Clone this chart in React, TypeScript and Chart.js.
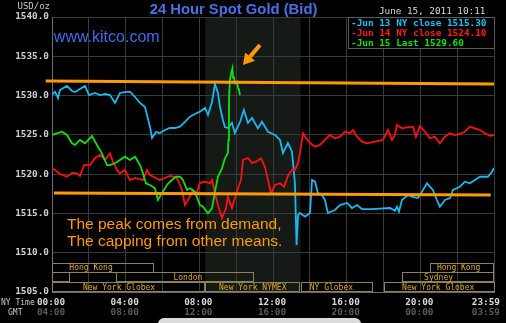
import React, { useEffect, useRef } from 'react';
import { Chart, registerables } from 'chart.js';

Chart.register(...registerables);

// ---- data (hour of NY day, price USD/oz) ----
const jun13Series: [number, number][] = [
  [0, 1530.07], [0.16, 1530.49], [0.33, 1529.69], [0.43, 1530.71], [0.81, 1531.22], [1.09, 1530.58], [1.25, 1530.45], [1.52, 1530.84], [1.79, 1531.22], [2.01, 1530.07],
  [2.33, 1530.33], [2.61, 1530.07], [2.88, 1530.2], [3.15, 1530.07], [3.42, 1529.06], [3.69, 1530.33], [3.96, 1530.45], [4.23, 1530.49], [4.51, 1529.82], [4.78, 1529.06],
  [5.05, 1528.55], [5.32, 1526.04], [5.43, 1524.6], [5.65, 1525.36], [5.86, 1525.24], [6.13, 1525.62], [6.41, 1525.87], [6.68, 1525.87], [6.95, 1526.04], [7.22, 1526.64],
  [7.49, 1527.31], [7.76, 1527.65], [8.03, 1527.95], [8.31, 1528.42], [8.47, 1527.53], [8.69, 1529.22], [8.85, 1531.47], [9.01, 1530.33], [9.12, 1528.58], [9.28, 1526.89],
  [9.39, 1526.0], [9.55, 1525.87], [9.77, 1526.51], [9.93, 1525.24], [10.21, 1526.64], [10.42, 1528.16], [10.64, 1526.51], [10.86, 1527.15], [11.18, 1525.83], [11.4, 1526.67],
  [11.73, 1525.4], [12.11, 1524.98], [12.38, 1524.35], [12.54, 1522.69], [12.81, 1523.96], [13.03, 1522.86], [13.19, 1518.87], [13.28, 1510.98], [13.36, 1514.8], [13.46, 1515.05],
  [13.74, 1514.58], [14.01, 1515.05], [14.12, 1519.25], [14.28, 1519.04], [14.44, 1517.6], [14.66, 1517.35], [14.82, 1516.71], [14.98, 1515.05], [15.36, 1515.44], [15.64, 1516.07],
  [16.02, 1516.33], [16.29, 1515.69], [16.56, 1516.07], [16.83, 1515.56], [17.37, 1515.56], [18.35, 1515.69], [18.62, 1515.35], [18.73, 1515.86], [18.84, 1515.22], [19.0, 1516.71],
  [19.33, 1517.35], [19.54, 1517.13], [19.87, 1516.96], [20.09, 1517.77], [20.36, 1518.83], [20.68, 1517.98], [20.9, 1516.71], [21.06, 1515.86], [21.34, 1516.71], [21.61, 1516.96],
  [21.77, 1517.98], [22.15, 1518.4], [22.42, 1519.04], [22.69, 1518.83], [22.96, 1519.25], [23.24, 1519.67], [23.67, 1519.67], [23.89, 1520.31], [24.0, 1520.78],
];

const jun14Series: [number, number][] = [
  [0, 1520.74], [0.16, 1520.53], [0.43, 1520.02], [0.81, 1519.67], [1.09, 1520.15], [1.36, 1520.11], [1.52, 1519.76], [1.74, 1521.16], [2.06, 1521.16], [2.33, 1522.02],
  [2.61, 1522.44], [2.88, 1521.8], [3.15, 1522.65], [3.31, 1521.58], [3.53, 1520.53], [3.69, 1520.11], [3.96, 1520.53], [4.23, 1519.25], [4.51, 1519.51], [4.94, 1519.25],
  [5.16, 1520.53], [5.32, 1519.89], [5.86, 1519.25], [6.13, 1519.51], [6.41, 1519.76], [6.68, 1519.67], [6.84, 1519.25], [7.06, 1517.98], [7.22, 1516.07], [7.49, 1517.13],
  [7.65, 1517.98], [7.82, 1517.35], [8.03, 1518.87], [8.31, 1519.04], [8.58, 1518.83], [8.69, 1519.25], [8.85, 1517.6], [9.01, 1516.07], [9.23, 1514.42], [9.45, 1515.69],
  [9.55, 1517.13], [9.77, 1515.69], [9.93, 1516.96], [10.1, 1518.24], [10.26, 1519.25], [10.37, 1521.8], [10.64, 1522.05], [10.86, 1521.42], [11.07, 1521.58], [11.35, 1522.02],
  [11.56, 1520.95], [11.73, 1519.25], [11.89, 1517.56], [12.11, 1518.62], [12.38, 1518.83], [12.6, 1518.4], [12.81, 1519.76], [13.03, 1520.53], [13.19, 1520.53], [13.36, 1521.42],
  [13.46, 1522.69], [13.63, 1525.2], [13.79, 1524.6], [14.01, 1523.96], [14.28, 1523.49], [14.55, 1523.71], [14.82, 1524.35], [15.09, 1524.98], [15.36, 1524.56], [15.64, 1524.77],
  [15.91, 1525.4], [16.18, 1525.2], [16.34, 1525.62], [16.56, 1524.77], [16.83, 1524.13], [17.1, 1523.93], [17.54, 1524.13], [17.97, 1524.35], [18.24, 1525.62], [18.46, 1524.35],
  [18.62, 1524.98], [18.73, 1526.25], [19.0, 1525.83], [19.27, 1525.96], [19.6, 1526.04], [19.76, 1524.77], [19.98, 1526.13], [20.25, 1525.4], [20.52, 1524.56], [20.79, 1524.77],
  [21.06, 1523.93], [21.34, 1524.77], [21.61, 1525.2], [21.88, 1524.98], [22.15, 1525.11], [22.42, 1525.4], [22.69, 1526.04], [22.96, 1525.83], [23.24, 1525.62], [23.51, 1525.2],
  [23.78, 1524.89], [24.0, 1524.98],
];

const jun15Series: [number, number][] = [
  [0, 1524.98], [0.27, 1525.2], [0.54, 1525.4], [0.81, 1524.98], [1.09, 1523.93], [1.25, 1523.71], [1.52, 1524.35], [1.79, 1523.93], [2.17, 1524.85], [2.44, 1523.71],
  [2.71, 1522.65], [2.99, 1521.16], [3.15, 1521.16], [3.42, 1521.38], [3.69, 1521.8], [3.96, 1522.22], [4.23, 1521.8], [4.51, 1522.22], [4.78, 1521.16], [4.94, 1520.11],
  [5.1, 1518.83], [5.32, 1518.62], [5.59, 1518.2], [5.75, 1516.71], [5.97, 1517.56], [6.24, 1518.62], [6.51, 1519.25], [6.73, 1519.67], [6.95, 1519.67], [7.11, 1519.25],
  [7.33, 1517.98], [7.49, 1518.2], [7.76, 1517.77], [8.03, 1516.07], [8.2, 1515.86], [8.47, 1515.02], [8.69, 1515.65], [8.85, 1517.77], [9.01, 1519.67], [9.23, 1520.74],
  [9.39, 1522.02], [9.55, 1522.69], [9.58, 1524.35], [9.61, 1529.44], [9.66, 1531.98], [9.72, 1532.75], [9.8, 1533.47], [9.83, 1532.24], [9.88, 1532.4], [9.93, 1531.56],
  [10.04, 1531.77], [10.1, 1530.93], [10.15, 1530.71], [10.21, 1530.07],
];

// hand-drawn "cap" lines
const capHigh: [number, number][] = [[-0.34, 1531.86], [24, 1531.47]];
const capLow: [number, number][] = [[0.11, 1517.6], [23.82, 1517.35]];

// arrow (tail -> head) in hour / price
const arrowTail: [number, number] = [11.29, 1536.44];
const arrowHead: [number, number] = [10.37, 1533.89];

const legendLines = ['-Jun 13 NY close 1515.30', '-Jun 14 NY close 1524.10', '-Jun 15 Last 1529.60'];
const legendColors = ['#19c0f5', '#ff1a1a', '#10e010'];

const labelHours = [0, 4, 8, 12, 16, 20, 24];
const nyTimeLabels = ['00:00', '04:00', '08:00', '12:00', '16:00', '20:00', '23:59'];
const gmtLabels = ['04:00', '08:00', '12:00', '16:00', '20:00', '00:00', '03:59'];

const comexOpen = 8.33;
const comexClose = 13.5;

// trading sessions: row, start hour, end hour, label, label centre hour
const sessions: [number, number, number, string, number][] = [
  [0, 0, 5.54, 'Hong Kong', 2.12],
  [0, 20.5, 24, 'Hong Kong', 22.08],
  [1, 0, 1.0, '', 0.5],
  [1, 3.5, 11.0, 'London', 7.38],
  [1, 19.0, 24, 'Sydney', 20.99],
  [2, 0, 8.33, 'New York Globex', 3.64],
  [2, 8.33, 13.5, 'New York NYMEX', 10.9],
  [2, 13.5, 17.4, 'NY Globex', 15.17],
  [2, 18.0, 24, 'New York Globex', 20.97],
];
const sessionRowTops = [1508.75, 1507.5, 1506.25];
const sessionRowHeight = 1.25;

const noteLines = ['The peak comes from demand,', 'The capping from other means.'];
const notePos: [number, number][] = [[0.81, 1513.53], [0.81, 1511.36]];
const sitePos: [number, number] = [0.1, 1537.33];

const MONO = '"DejaVu Sans Mono", "Liberation Mono", monospace';
const SANS = '"Liberation Sans", Arial, sans-serif';

const toPts = (s: [number, number][]) => s.map(([x, y]) => ({ x, y }));

const decorPlugin = {
  id: 'decor',
  beforeDraw(chart: any) {
    const { ctx, chartArea: a, scales } = chart;
    const x = scales.x;
    ctx.save();
    ctx.fillStyle = '#000';
    ctx.fillRect(0, 0, chart.width, chart.height);
    const x1 = x.getPixelForValue(comexOpen);
    const x2 = x.getPixelForValue(comexClose);
    ctx.fillStyle = '#161a16';
    ctx.fillRect(x1, a.top, x2 - x1, a.bottom - a.top);
    ctx.restore();
  },
  afterDraw(chart: any) {
    const { ctx, chartArea: a, scales } = chart;
    const x = scales.x;
    const y = scales.y;
    ctx.save();

    // title
    ctx.fillStyle = '#4a6fe6';
    ctx.font = `bold 14.8px ${SANS}`;
    ctx.textAlign = 'center';
    ctx.textBaseline = 'alphabetic';
    ctx.fillText('24 Hour Spot Gold (Bid)', 233.5, 13.5);

    // units
    ctx.fillStyle = '#c8c8c8';
    ctx.font = `9px ${MONO}`;
    ctx.textAlign = 'right';
    ctx.fillText('USD/oz', 50, 9);

    // date
    ctx.fillStyle = '#d8d8d8';
    ctx.font = `9.3px ${MONO}`;
    ctx.textAlign = 'left';
    ctx.fillText('June 15, 2011 10:11', 379, 14);

    // site
    ctx.fillStyle = '#4169e6';
    ctx.font = `16px ${SANS}`;
    ctx.textBaseline = 'middle';
    ctx.fillText('www.kitco.com', x.getPixelForValue(sitePos[0]), y.getPixelForValue(sitePos[1]));

    // legend box
    const lx = 348, ly = a.top, lw = a.right + 1 - 348, lh = 31;
    ctx.fillStyle = '#000';
    ctx.fillRect(lx, ly, lw, lh);
    ctx.strokeStyle = '#5a5a5a';
    ctx.lineWidth = 1;
    ctx.strokeRect(lx + 0.5, ly + 0.5, lw - 1, lh);
    ctx.font = `bold 9.4px ${MONO}`;
    ctx.textBaseline = 'alphabetic';
    ctx.textAlign = 'left';
    legendLines.forEach((t, i) => {
      ctx.fillStyle = legendColors[i];
      ctx.fillText(t, 351, 26 + i * 10);
    });

    // sessions
    ctx.font = `8px ${MONO}`;
    ctx.textAlign = 'center';
    ctx.textBaseline = 'middle';
    sessions.forEach(([row, s, e, label, at]) => {
      const top = y.getPixelForValue(sessionRowTops[row]);
      const bot = y.getPixelForValue(sessionRowTops[row] - sessionRowHeight);
      const xs = x.getPixelForValue(s);
      const xe = x.getPixelForValue(e);
      ctx.strokeStyle = '#8a8356';
      ctx.strokeRect(Math.round(xs) + 0.5, Math.round(top) + 0.5, Math.round(xe - xs) - 1, Math.round(bot - top) - 1);
      if (label) {
        ctx.fillStyle = '#dcaa2a';
        ctx.fillText(label, x.getPixelForValue(at), (top + bot) / 2 + 0.5);
      }
    });

    // x labels
    ctx.font = `bold 9.4px ${MONO}`;
    ctx.textBaseline = 'middle';
    ctx.textAlign = 'center';
    labelHours.forEach((h, i) => {
      let px = x.getPixelForValue(h);
      const w = ctx.measureText(nyTimeLabels[i]).width;
      px = Math.min(px - 1, chart.width - 6 - w / 2);
      ctx.fillStyle = '#d8d8d8';
      ctx.fillText(nyTimeLabels[i], px, 303);
      ctx.fillStyle = '#5a5a5a';
      ctx.fillText(gmtLabels[i], px, 313);
    });
    ctx.font = `8px ${MONO}`;
    ctx.fillStyle = '#c8c8c8';
    ctx.textAlign = 'left';
    ctx.fillText('NY Time', 1, 303);
    ctx.fillText('GMT', 8, 313);

    // notes
    ctx.fillStyle = '#ff9a00';
    ctx.font = `15.5px ${SANS}`;
    ctx.textAlign = 'left';
    ctx.textBaseline = 'middle';
    noteLines.forEach((t, i) => {
      ctx.fillText(t, x.getPixelForValue(notePos[i][0]), y.getPixelForValue(notePos[i][1]));
    });

    // arrow
    const tx = x.getPixelForValue(arrowTail[0]), ty = y.getPixelForValue(arrowTail[1]);
    const hx = x.getPixelForValue(arrowHead[0]), hy = y.getPixelForValue(arrowHead[1]);
    const ang = Math.atan2(hy - ty, hx - tx);
    const headLen = 11, headHalf = 6.5;
    const bx = hx - headLen * Math.cos(ang), by = hy - headLen * Math.sin(ang);
    ctx.strokeStyle = '#ff9a00';
    ctx.fillStyle = '#ff9a00';
    ctx.lineWidth = 4;
    ctx.beginPath();
    ctx.moveTo(tx, ty);
    ctx.lineTo(bx, by);
    ctx.stroke();
    ctx.beginPath();
    ctx.moveTo(hx, hy);
    ctx.lineTo(bx + headHalf * Math.sin(ang), by - headHalf * Math.cos(ang));
    ctx.lineTo(bx - headHalf * Math.sin(ang), by + headHalf * Math.cos(ang));
    ctx.closePath();
    ctx.fill();

    // cropped light shape at the very bottom
    ctx.fillStyle = '#dcdcdc';
    ctx.beginPath();
    (ctx as any).roundRect(158, 318, 203, 14, 6);
    ctx.fill();

    ctx.restore();
  },
};

export default function App() {
  const ref = useRef<HTMLCanvasElement>(null);
  useEffect(() => {
    document.body.style.margin = '0';
    document.body.style.background = '#000';
    const chart = new Chart(ref.current as HTMLCanvasElement, {
      type: 'line',
      data: {
        datasets: [
          { data: toPts(capHigh), borderColor: '#ff9a00', borderWidth: 3, pointRadius: 0, clip: false as any },
          { data: toPts(capLow), borderColor: '#ff9a00', borderWidth: 3, pointRadius: 0, clip: false as any },
          { data: toPts(jun15Series), borderColor: '#10e010', borderWidth: 1.8, pointRadius: 0 },
          { data: toPts(jun14Series), borderColor: '#ff1010', borderWidth: 1.8, pointRadius: 0 },
          { data: toPts(jun13Series), borderColor: '#1ab8f0', borderWidth: 1.8, pointRadius: 0 },
        ],
      },
      options: {
        responsive: false,
        animation: false,
        devicePixelRatio: 1,
        layout: { padding: { left: 0, right: 12, top: 17, bottom: 0 } },
        plugins: { legend: { display: false }, tooltip: { enabled: false } },
        elements: { line: { tension: 0 } },
        scales: {
          x: {
            type: 'linear',
            min: 0,
            max: 24,
            ticks: { stepSize: 2, display: false },
            grid: { color: '#3a3a3a', drawTicks: false },
            border: { color: '#6a6a6a' },
            afterFit: (s: any) => { s.height = 31; },
          },
          y: {
            type: 'linear',
            min: 1505,
            max: 1540,
            ticks: {
              stepSize: 5,
              padding: 3,
              color: '#cfcfcf',
              font: { family: MONO, size: 9.4, weight: 'bold' },
              callback: (v: any) => Number(v).toFixed(1),
            },
            grid: { color: '#3a3a3a', drawTicks: false },
            border: { color: '#707070' },
            afterFit: (s: any) => { s.width = 52; },
          },
        },
      },
      plugins: [decorPlugin],
    } as any);
    return () => chart.destroy();
  }, []);
  return (
    <div style={{ width: 506, height: 323, background: '#000' }}>
      <canvas ref={ref} width={506} height={323} style={{ display: 'block' }} />
    </div>
  );
}
